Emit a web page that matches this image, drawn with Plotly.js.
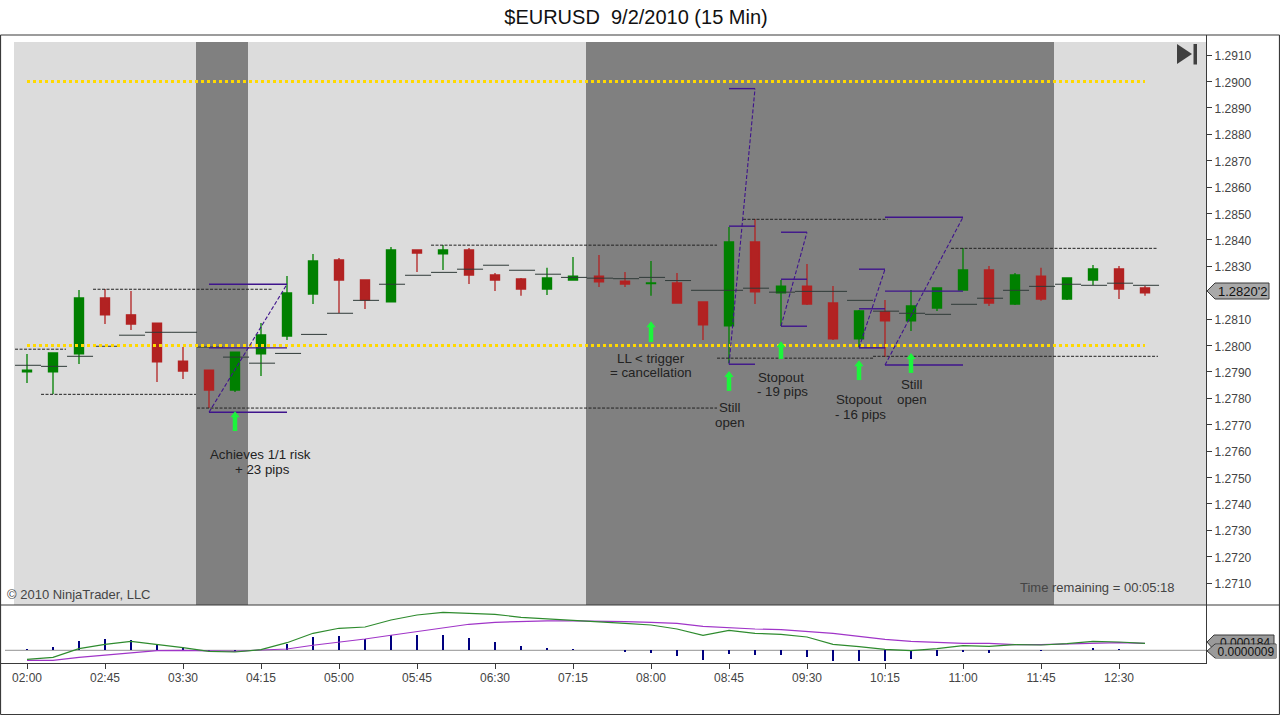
<!DOCTYPE html>
<html><head><meta charset="utf-8">
<script src="https://cdn.plot.ly/plotly-3.0.1.min.js"></script>
<style>html,body{margin:0;padding:0;background:#fff;overflow:hidden}#chart{width:1280px;height:715px}</style>
</head><body><div id="chart"></div>
<script>
// ---------- data ----------
const bars  = [0,1,2,3,4,5,6,7,8,9,10,11,12,13,14,15,16,17,18,19,20,21,22,23,24,25,26,27,28,29,30,31,32,33,34,35,36,37,38,39,40,41,42,43];
const opens = [1.27900,1.27900,1.27968,1.28180,1.28116,1.28085,1.27941,1.27907,1.27831,1.27968,1.28036,1.28195,1.28324,1.28248,1.28165,1.28362,1.28347,1.28362,1.28267,1.28252,1.28214,1.28248,1.28263,1.28244,1.28234,1.28237,1.28165,1.28074,1.28392,1.28199,1.28225,1.28161,1.28025,1.28127,1.28093,1.28142,1.28210,1.28286,1.28157,1.28263,1.28176,1.28248,1.28290,1.28218];
const closes= [1.27907,1.27972,1.28180,1.28116,1.28081,1.27938,1.27903,1.27831,1.27975,1.28040,1.28199,1.28320,1.28248,1.28172,1.28362,1.28350,1.28362,1.28267,1.28248,1.28214,1.28256,1.28263,1.28241,1.28233,1.28237,1.28161,1.28078,1.28392,1.28203,1.28225,1.28157,1.28025,1.28131,1.28093,1.28150,1.28218,1.28286,1.28161,1.28267,1.28176,1.28256,1.28290,1.28214,1.28199];
const highs = [1.27968,1.27972,1.28210,1.28214,1.28206,1.28085,1.27994,1.27907,1.27975,1.28085,1.28263,1.28347,1.28331,1.28248,1.28373,1.28362,1.28381,1.28369,1.28275,1.28256,1.28294,1.28335,1.28343,1.28278,1.28320,1.28275,1.28165,1.28449,1.28479,1.28248,1.28309,1.28225,1.28134,1.28172,1.28210,1.28218,1.28369,1.28301,1.28275,1.28294,1.28256,1.28305,1.28301,1.28225];
const lows  = [1.27858,1.27816,1.27930,1.28081,1.28059,1.27862,1.27873,1.27763,1.27824,1.27884,1.28021,1.28157,1.28123,1.28138,1.28165,1.28278,1.28286,1.28233,1.28206,1.28188,1.28191,1.28248,1.28222,1.28222,1.28188,1.28161,1.28021,1.27934,1.28157,1.28074,1.28153,1.28021,1.27994,1.27956,1.28055,1.28131,1.28210,1.28150,1.28153,1.28169,1.28172,1.28229,1.28176,1.28188];
const pivots= [1.27925,1.27921,1.27959,1.27997,1.28039,1.28050,1.28050,1.27994,1.27956,1.27933,1.27970,1.28042,1.28122,1.28171,1.28232,1.28266,1.28277,1.28289,1.28304,1.28285,1.28270,1.28258,1.28255,1.28253,1.28258,1.28246,1.28209,1.28209,1.28217,1.28202,1.28205,1.28205,1.28171,1.28130,1.28122,1.28118,1.28156,1.28179,1.28209,1.28224,1.28232,1.28228,1.28236,1.28228];
const swingLevels = [1.27986,1.27815,1.28213,1.27763,1.28380,1.28478,1.27952,1.27959,1.28368];
const swingStart  = [-0.46,0.54,2.54,6.54,15.54,27.54,26.54,32.54,35.54];
const swingEnd    = [1.5,6.5,9.46,26.54,26.54,33.1,32.54,43.5,43.5];
const goldLevels  = [1.2900,1.2800];
const goldStart   = 0, goldEnd = 43;
const zStart  = [7,27,29,32,33];
const zEnd    = [10,28,30,33,36];
const zTop    = [1.28232,1.28973,1.28429,1.28289,1.28486];
const zMid    = [1.27991,1.28452,1.28251,1.28139,1.28206];
const zBottom = [1.27747,1.27929,1.28073,1.27991,1.27926];
const arrowBars = [8,24,27,29,32,34];
const arrowHead = [1.27736,1.28077,1.27888,1.28001,1.27929,1.27956];
const arrowBase = [1.27676,1.28013,1.27828,1.27949,1.27869,1.27896];
const macdFast = [-0.000237,-0.000184,0.000042,0.000158,0.000237,0.000158,0.000068,-0.000026,-0.000045,0.000016,0.000200,0.000447,0.000579,0.000613,0.000797,0.000928,0.000999,0.000973,0.000947,0.000868,0.000831,0.000797,0.000752,0.000710,0.000665,0.000560,0.000395,0.000526,0.000447,0.000421,0.000350,0.000158,0.000095,0.000026,-0.000011,0.000042,0.000121,0.000105,0.000147,0.000139,0.000174,0.000237,0.000218,0.000184];
const macdAvg  = [-0.000263,-0.000263,-0.000184,-0.000124,-0.000063,-0.000011,0,-0.000011,-0.000026,0.000008,0.000034,0.000132,0.000210,0.000297,0.000395,0.000489,0.000594,0.000684,0.000736,0.000763,0.000771,0.000771,0.000752,0.000752,0.000736,0.000710,0.000631,0.000594,0.000560,0.000542,0.000500,0.000447,0.000368,0.000289,0.000237,0.000210,0.000184,0.000184,0.000147,0.000147,0.000166,0.000200,0.000200,0.000184];
const macdHist = [0.000034,0.000087,0.000237,0.000297,0.000263,0.000158,0.000079,-0.000018,-0.000034,0.000008,0.000166,0.000350,0.000376,0.000308,0.000395,0.000402,0.000402,0.000323,0.000218,0.000113,0.000060,0.000034,0.000003,-0.000045,-0.000071,-0.000150,-0.000255,-0.000097,-0.000124,-0.000124,-0.000176,-0.000281,-0.000281,-0.000281,-0.000229,-0.000150,-0.000045,-0.000071,-0.000003,-0.000018,0.000003,0.000053,0.000026,0.0000009];
const timeTickBars = [0,3,6,9,12,15,18,21,24,27,30,33,36,39,42];
const timeTickText = ['02:00','02:45','03:30','04:15','05:00','05:45','06:30','07:15','08:00','08:45','09:30','10:15','11:00','11:45','12:30'];
const priceTicks = [1.2710,1.2720,1.2730,1.2740,1.2750,1.2760,1.2770,1.2780,1.2790,1.2800,1.2810,1.2830,1.2840,1.2850,1.2860,1.2870,1.2880,1.2890,1.2900,1.2910];
const darkBandStart = [6.5,21.5];
const darkBandEnd   = [8.5,39.5];

// ---------- palette ----------
const UP='#008000', DOWN='#B22222', VIOLET='#3F148C', GOLD='#FFD900', ARROW='#1CF53C', INK='#222222', GREY='#444444', FONT='"Liberation Sans", Arial, sans-serif';

// ---------- frame geometry (pixel -> paper) ----------
const L=1,R=1206,T=35,B=663,SPLIT=605;
const W=1280,H=715;
const px=x=>(x-L)/(R-L), py=y=>(B-y)/(B-T);
const split=(B-SPLIT)/(B-T);

function segs(list){const x=[],y=[];list.forEach(s=>{x.push(s[0],s[1],null);y.push(s[2],s[3],null);});return {x,y};}

const pivotSegs=segs(bars.map((b,i)=>[b-0.46,b+0.54,pivots[i],pivots[i]]));
const swingSegs=segs(swingLevels.map((v,i)=>[swingStart[i],swingEnd[i],v,v]));
const zHoriz=[];zStart.forEach((s,i)=>{[zTop[i],zMid[i],zBottom[i]].forEach(v=>zHoriz.push([s,zEnd[i],v,v]));});
const zH=segs(zHoriz);
const zD=segs(zStart.map((s,i)=>[s,zEnd[i],zBottom[i],zTop[i]]));
const arrowSegs=segs(arrowBars.map((b,i)=>[b,b,arrowBase[i],arrowHead[i]]));
const goldSegs=segs(goldLevels.map(v=>[goldStart,goldEnd,v,v]));

const traces=[
 {type:'candlestick',x:bars,open:opens,high:highs,low:lows,close:closes,xaxis:'x',yaxis:'y',whiskerwidth:0,
  increasing:{line:{color:UP,width:1.3},fillcolor:UP},decreasing:{line:{color:DOWN,width:1.3},fillcolor:DOWN},hoverinfo:'skip'},
 {type:'scatter',mode:'lines',x:pivotSegs.x,y:pivotSegs.y,line:{color:'#2F3A38',width:1},hoverinfo:'skip'},
 {type:'scatter',mode:'lines',x:swingSegs.x,y:swingSegs.y,line:{color:'#222222',width:1,dash:'3px,1.5px'},hoverinfo:'skip'},
 {type:'scatter',mode:'lines',x:goldSegs.x,y:goldSegs.y,line:{color:GOLD,width:3,dash:'3px,3px'},hoverinfo:'skip'},
 {type:'scatter',mode:'lines',x:zH.x,y:zH.y,line:{color:VIOLET,width:1.4},hoverinfo:'skip'},
 {type:'scatter',mode:'lines',x:zD.x,y:zD.y,line:{color:VIOLET,width:1.1,dash:'4px,2px'},hoverinfo:'skip'},
 {type:'scatter',mode:'lines',x:arrowSegs.x,y:arrowSegs.y,line:{color:ARROW,width:4.5},hoverinfo:'skip'},
 {type:'scatter',mode:'markers',x:arrowBars,y:arrowHead,marker:{symbol:'triangle-up',size:8,color:ARROW,line:{width:0}},hoverinfo:'skip'},
 {type:'bar',x:bars,y:macdHist,width:0.075,marker:{color:'#00007F',line:{width:0}},xaxis:'x',yaxis:'y2',hoverinfo:'skip'},
 {type:'scatter',mode:'lines',x:bars,y:macdAvg,line:{color:'#A035C8',width:1.2},xaxis:'x',yaxis:'y2',hoverinfo:'skip'},
 {type:'scatter',mode:'lines',x:bars,y:macdFast,line:{color:'#2E8B2E',width:1.2},xaxis:'x',yaxis:'y2',hoverinfo:'skip'}
];

const poly=pts=>'M'+pts.map(p=>px(p[0])+','+py(p[1])).join('L')+'Z';
const paperLine=(x0,y0,x1,y1)=>({type:'line',xref:'paper',yref:'paper',x0:px(x0),x1:px(x1),y0:py(y0),y1:py(y1),line:{color:'#3A3A3A',width:1.2},layer:'above'});
const shapes=[
 {type:'rect',xref:'paper',yref:'paper',x0:px(14),x1:px(R),y0:py(42),y1:py(SPLIT),fillcolor:'#DCDCDC',line:{width:0},layer:'below'}
];
darkBandStart.forEach((s,i)=>shapes.push({type:'rect',xref:'x',yref:'paper',x0:s,x1:darkBandEnd[i],y0:py(42),y1:py(SPLIT),fillcolor:'#808080',line:{width:0},layer:'below'}));
shapes.push(
 {type:'line',xref:'paper',yref:'y2',x0:px(5),x1:1,y0:0,y1:0,line:{color:'#A8A8A8',width:1.2},layer:'below'},
 paperLine(0.5,T,1279.5,T),paperLine(0.5,T,0.5,714.5),paperLine(0.5,714.5,1279.5,714.5),paperLine(1279.5,T,1279.5,714.5),
 paperLine(0.5,SPLIT,1279.5,SPLIT),
 {type:'path',xref:'paper',yref:'paper',path:poly([[1177,44],[1192,54],[1177,64]]),fillcolor:'#404040',line:{width:0},layer:'above'},
 {type:'rect',xref:'paper',yref:'paper',x0:px(1193.5),x1:px(1197),y0:py(44),y1:py(64.5),fillcolor:'#404040',line:{width:0},layer:'above'},
 {type:'path',xref:'paper',yref:'paper',path:poly([[1207,291],[1215,283],[1269,283],[1269,299],[1215,299]]),fillcolor:'#A9A9A9',line:{color:'#3A3A3A',width:1},layer:'above'},
 {type:'path',xref:'paper',yref:'paper',path:poly([[1207,642],[1214,635],[1274,635],[1274,650],[1214,650]]),fillcolor:'#9A9A9A',line:{color:'#3A3A3A',width:1},layer:'above'},
 {type:'path',xref:'paper',yref:'paper',path:poly([[1207,651],[1215,644],[1276,644],[1276,658],[1215,658]]),fillcolor:'#9A9A9A',line:{color:'#3A3A3A',width:1},layer:'above'}
);

const note=(text,x,y,size,color,anchor)=>({xref:'paper',yref:'paper',x:px(x),y:py(y),text,showarrow:false,xanchor:anchor||'center',yanchor:'middle',align:anchor||'center',font:{family:FONT,size:size||13,color:color||INK}});
const annotations=[
 note('Achieves 1/1 risk',260.5,454,13.3), note('+ 23 pips',262,469,13.3),
 note('LL &lt; trigger',651,358,13.3), note('= cancellation',651,372.5,13.3),
 note('Still',729,407.5,13.3), note('open',730,422.5,13.3),
 note('Stopout',781,377,13.3), note('- 19 pips',782,392,13.3),
 note('Stopout',859,399.5,13.3), note('- 16 pips',860,414.5,13.3),
 note('Still',911,384.5,13.3), note('open',912,399.5,13.3),
 note('© 2010 NinjaTrader, LLC',5,594,13,GREY,'left'),
 note('Time remaining = 00:05:18',1177,587.5,13,GREY,'right'),
 note("1.2820'2",1243,291,13,'#111111'),
 note('0.000184',1245,642.5,12,'#111111'),
 Object.assign(note('0.0000009',1246,651,12,'#111111'),{bgcolor:'#9A9A9A',width:60,height:13,borderpad:0})
];

const layout={
 width:W,height:H,paper_bgcolor:'#FFFFFF',plot_bgcolor:'#FFFFFF',showlegend:false,dragmode:false,hovermode:false,
 margin:{l:L,r:W-R,t:T,b:H-B,pad:0},font:{family:FONT,size:12,color:GREY},
 bargap:0,boxgap:0.5,boxmode:'group',
 title:{text:'$EURUSD \u00A09/2/2010 (15 Min)',xref:'container',yref:'container',x:636/W,y:1-17/H,xanchor:'center',yanchor:'middle',font:{family:FONT,size:20,color:'#111111'}},
 xaxis:{domain:[0,1],range:[-1,45.346],anchor:'y2',tickvals:timeTickBars,ticktext:timeTickText,ticks:'outside',ticklen:5,tickwidth:1,tickcolor:'#3A3A3A',ticklabelstandoff:-2,showline:true,linecolor:'#3A3A3A',linewidth:1.2,showgrid:false,zeroline:false,rangeslider:{visible:false},tickfont:{family:FONT,size:12,color:GREY}},
 yaxis:{domain:[split,1],range:[1.27017,1.291761],side:'right',anchor:'x',tickvals:priceTicks,tickformat:'.4f',ticks:'outside',ticklen:5,tickwidth:1,tickcolor:'#3A3A3A',ticklabelshift:1,showline:true,linecolor:'#3A3A3A',linewidth:1.2,showgrid:false,zeroline:false,tickfont:{family:FONT,size:12,color:GREY}},
 yaxis2:{domain:[0,split],range:[-0.000334,0.001191],side:'right',anchor:'x',showticklabels:false,ticks:'',showline:true,linecolor:'#3A3A3A',linewidth:1.2,showgrid:false,zeroline:false},
 shapes,annotations
};
Plotly.newPlot('chart',traces,layout,{displayModeBar:false,staticPlot:true});
</script></body></html>
